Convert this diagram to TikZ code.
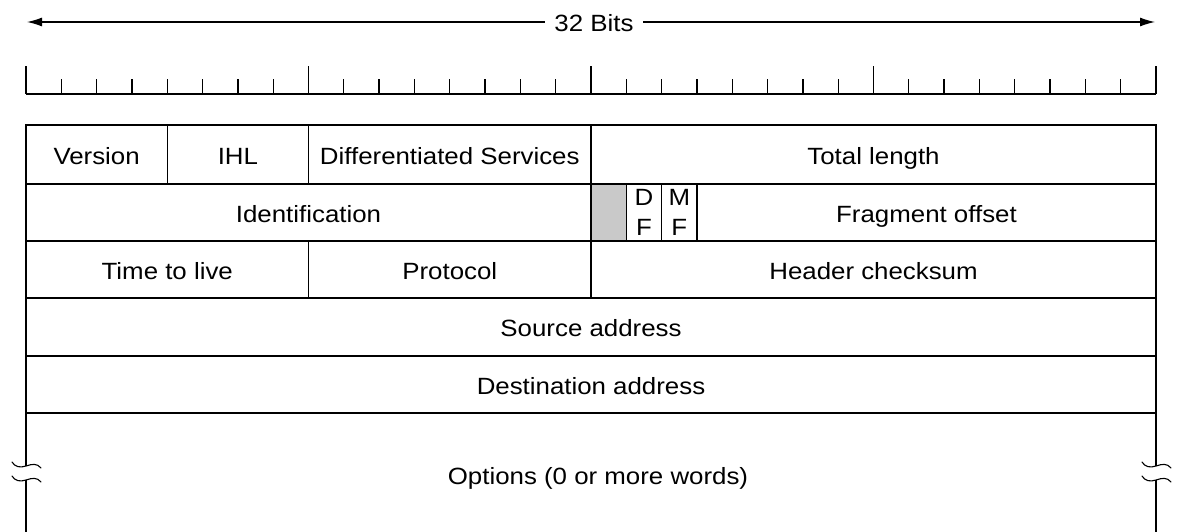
\documentclass[tikz,border=0pt]{standalone}
\usepackage{fontspec}
\setmainfont{Liberation Sans}[FakeStretch=1.1]
\usetikzlibrary{arrows.meta}
\begin{document}
\begin{tikzpicture}[x=1pt, y=-1pt, line width=1.3pt,
  txt/.style={font=\fontsize{23.5}{30}\selectfont},
  cell/.style={draw, rectangle, anchor=north west, inner sep=0pt, outer sep=0pt, txt},
  one/.style={text height=20pt, text depth=1pt},
  lbl/.style={inner sep=0pt, txt},
  arr/.style={-{Latex[length=15pt,width=9pt]}, line width=1.2pt},
  brk/.style={line width=1.1pt, line cap=round}]
\useasboundingbox (0,0) rectangle (1177,532);
% one bit of the 32-bit word
\def\bw{35.3125}

% width arrow
\node[lbl, inner xsep=9pt, one] (bits) at (594,22) {32 Bits};
\coordinate (aL) at (27,22);
\coordinate (aR) at (1155,22);
\draw[arr] (bits.west) -- (aL);
\draw[arr] (bits.east) -- (aR);

% bit ruler
\coordinate (r0) at (26,94);
\coordinate (r32) at (1156,94);
\draw (r0) -- (r32);
\foreach \k in {0,...,32}{
  \pgfmathsetmacro{\xx}{26+\k*\bw}
  \pgfmathtruncatemacro{\m}{mod(\k,8)}
  \ifnum\m=0
    \draw (\xx,94) -- (\xx,66);
  \else
    \draw (\xx,94) -- (\xx,79);
  \fi
}

% row 1
\node[cell, one, minimum width=141.25pt, minimum height=59pt] (ver) at (26,125) {Version};
\node[cell, one, minimum width=141.25pt, minimum height=59pt] (ihl) at (167.25,125) {IHL};
\node[cell, one, minimum width=282.5pt, minimum height=59pt] (ds) at (308.5,125) {Differentiated Services};
\node[cell, one, minimum width=565pt, minimum height=59pt] (tl) at (591,125) {Total length};

% row 2
\node[cell, one, minimum width=565pt, minimum height=57pt] (ident) at (26,184) {Identification};
\node[cell, fill=black!21, minimum width=35.3125pt, minimum height=57pt] (rsv) at (591,184) {};
\node[cell, minimum width=35.3125pt, minimum height=57pt, align=center] (df) at (626.3125,184) {D\\F};
\node[cell, minimum width=35.3125pt, minimum height=57pt, align=center] (mf) at (661.625,184) {M\\F};
\node[cell, one, minimum width=459.0625pt, minimum height=57pt] (frag) at (696.9375,184) {Fragment offset};

% row 3
\node[cell, one, minimum width=282.5pt, minimum height=57pt] (ttl) at (26,241) {Time to live};
\node[cell, one, minimum width=282.5pt, minimum height=57pt] (proto) at (308.5,241) {Protocol};
\node[cell, one, minimum width=565pt, minimum height=57pt] (csum) at (591,241) {Header checksum};

% rows 4 and 5
\node[cell, one, minimum width=1130pt, minimum height=58pt] (src) at (26,298) {Source address};
\node[cell, one, minimum width=1130pt, minimum height=57pt] (dst) at (26,356) {Destination address};

% options, open at the bottom with break marks on both sides
\node[lbl, one] (opt) at (598,475) {Options (0 or more words)};
\coordinate (lt) at (26,413);
\coordinate (lm1) at (26,466);
\coordinate (lm2) at (26,480);
\coordinate (lb) at (26,532);
\coordinate (rt) at (1156,413);
\coordinate (rm1) at (1156,466);
\coordinate (rm2) at (1156,480);
\coordinate (rb) at (1156,532);
\draw (lt) -- (lm1) (lm2) -- (lb);
\draw (rt) -- (rm1) (rm2) -- (rb);
\foreach \dx in {0,1130}{
  \foreach \dy in {0,14}{
    \draw[brk, shift={(\dx,\dy)}]
      (12,462) .. controls (15,467) and (20,468) .. (26,466)
               .. controls (32,464) and (37,463) .. (41,468);
  }
}
\end{tikzpicture}
\end{document}
